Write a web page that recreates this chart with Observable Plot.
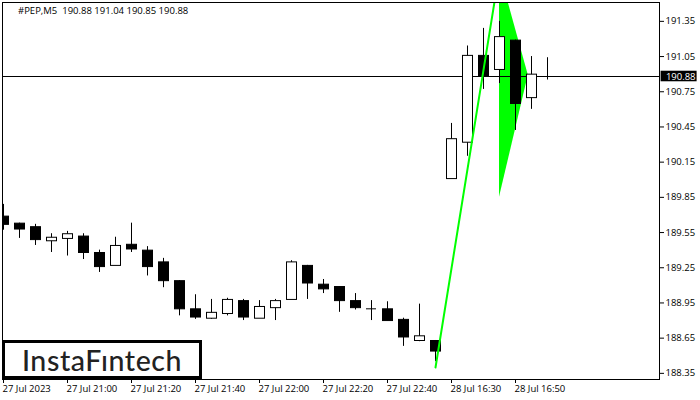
<!DOCTYPE html>
<html>
<head>
<meta charset="utf-8">
<script src="https://cdn.jsdelivr.net/npm/d3@7"></script>
<script src="https://cdn.jsdelivr.net/npm/@observablehq/plot@0.6"></script>
<style>
html,body{margin:0;padding:0;background:#fff}
#wrap{position:relative;width:700px;height:400px;overflow:hidden}
#head{position:absolute;left:18px;top:5px;font:9.5px/12px "Open Sans",sans-serif;color:#000;white-space:pre}
#logo{position:absolute;left:2px;top:340px;width:194px;height:33px;border:3px solid #000;background:#fff;color:#222;
font:500 28.5px/34px Lato,sans-serif;text-align:center;letter-spacing:.6px}
svg{display:block}
</style>
</head>
<body>
<div id="wrap"></div>
<script>
const opens  = [189.69,189.63,189.60,189.48,189.50,189.52,189.38,189.27,189.45,189.40,189.30,189.14,188.90,188.82,188.86,188.97,188.82,188.91,188.98,189.27,189.11,189.09,188.97,188.90,188.90,188.81,188.63,188.63,190.01,190.32,191.06,190.94,191.19,190.70,190.88];
const highs  = [189.79,189.63,189.62,189.54,189.56,189.54,189.40,189.51,189.63,189.43,189.33,189.14,189.02,188.98,188.99,188.98,188.97,188.98,189.31,189.27,189.15,189.09,189.03,188.97,188.96,188.82,188.94,188.63,190.48,191.14,191.29,191.35,191.19,191.05,191.04];
const lows   = [189.57,189.50,189.44,189.38,189.35,189.32,189.21,189.27,189.38,189.18,189.08,188.84,188.81,188.81,188.84,188.80,188.82,188.80,188.98,188.98,189.03,188.87,188.89,188.80,188.80,188.58,188.62,188.45,190.01,190.20,190.77,190.82,190.42,190.60,190.85];
const closes = [189.62,189.58,189.49,189.51,189.54,189.38,189.26,189.44,189.41,189.26,189.14,188.90,188.83,188.87,188.98,188.83,188.92,188.97,189.30,189.12,189.07,188.97,188.91,188.90,188.80,188.66,188.67,188.54,190.35,191.06,190.88,191.22,190.65,190.90,190.88];

const priceTicks = [191.35,191.05,190.75,190.45,190.15,189.85,189.55,189.25,188.95,188.65,188.35];
const timeTickIndex = [0,4,8,12,16,20,24,28,32];
const timeTickLabels = ["27 Jul 2023","27 Jul 21:00","27 Jul 21:20","27 Jul 21:40","27 Jul 22:00","27 Jul 22:20","27 Jul 22:40","28 Jul 16:30","28 Jul 16:50"];

const lastPrice = 190.88;
const poleX = [27,31];
const poleY = [188.40,191.78];
const flagX = [31,32.8];
const flagLow = [189.85,190.89];
const flagHigh = [191.78,190.89];

const candles = opens.map((o,i)=>({i,o,h:highs[i],l:lows[i],c:closes[i]}));
const half = 5/16;
const flag = flagX.map((x,k)=>({x,lo:flagLow[k],hi:flagHigh[k]}));
const pole = poleX.map((x,k)=>({x,y:poleY[k]}));
const dojis = candles.filter(d=>d.o===d.c);

const chart = Plot.plot({
  width:700,height:400,
  marginLeft:2,marginTop:2,marginRight:41,marginBottom:21,
  style:{fontFamily:'"Open Sans",sans-serif',fontSize:"9.5px",background:"#fff",color:"#000"},
  x:{domain:[-1/16,41],axis:null},
  y:{domain:[188.2976,191.5107],axis:null},
  marks:[
    Plot.areaY(flag,{x:"x",y1:"lo",y2:"hi",fill:"#00ff00",clip:true}),
    Plot.ruleY([lastPrice],{stroke:"#000",strokeWidth:1}),
    Plot.ruleX(candles,{x:"i",y1:"l",y2:"h",stroke:"#000",strokeWidth:1,clip:true}),
    Plot.rect(candles,{
      x1:d=>d.i-half,x2:d=>d.i+half,
      y1:d=>Math.min(d.o,d.c),y2:d=>Math.max(d.o,d.c),
      fill:d=>d.c>=d.o?"#fff":"#000",stroke:"#000",strokeWidth:1,dx:.5,dy:.5,clip:true
    }),
    Plot.ruleY(dojis,{y:"o",x1:d=>d.i-half,x2:d=>d.i+half,stroke:"#000",strokeWidth:1}),
    Plot.line(pole,{x:"x",y:"y",stroke:"#00ff00",strokeWidth:2,clip:true}),
    Plot.frame({stroke:"#000",strokeWidth:1}),
    Plot.axisY(priceTicks,{anchor:"right",tickSize:4,tickPadding:2,tickFormat:d=>d.toFixed(2),stroke:"#000",fill:"#000",label:null}),
    Plot.axisX(timeTickIndex,{anchor:"bottom",tickSize:4,text:null,stroke:"#000",label:null}),
    Plot.axisX(timeTickIndex,{anchor:"bottom",tickSize:0,tickPadding:6,dx:-1,textAnchor:"start",tickFormat:d=>timeTickLabels[timeTickIndex.indexOf(d)],fill:"#000",label:null}),
    Plot.rect([lastPrice],{x1:41.1,x2:43.35,y1:d=>d-.045,y2:d=>d+.045,fill:"#000"}),
    Plot.text([lastPrice],{x:41.4,y:d=>d,text:d=>d.toFixed(2),fill:"#fff",textAnchor:"start"})
  ]
});
const wrap=document.getElementById("wrap");
wrap.appendChild(chart);
const head=document.createElement("div");head.id="head";head.textContent="#PEP,M5  190.88 191.04 190.85 190.88";wrap.appendChild(head);
const logo=document.createElement("div");logo.id="logo";logo.textContent="InstaFıntech";wrap.appendChild(logo);
</script>
</body>
</html>
